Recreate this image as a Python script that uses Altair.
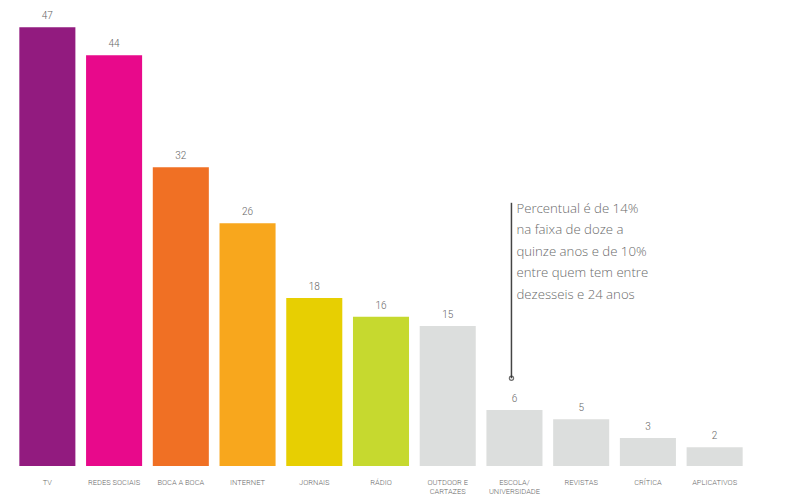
import altair as alt
import pandas as pd

categories = ["TV", "REDES SOCIAIS", "BOCA A BOCA", "INTERNET", "JORNAIS", "RÁDIO",
              "OUTDOOR E|CARTAZES", "ESCOLA/|UNIVERSIDADE", "REVISTAS", "CRÍTICA", "APLICATIVOS"]
values = [47, 44, 32, 26, 18, 16, 15, 6, 5, 3, 2]
colors = ["#921B7F", "#E8098B", "#F07024", "#F8A71D", "#E7CF02", "#C6D92F",
          "#DCDEDD", "#DCDEDD", "#DCDEDD", "#DCDEDD", "#DCDEDD"]

note_lines = ["Percentual é de 14%", "na faixa de doze a", "quinze anos e de 10%",
              "entre quem tem entre", "dezesseis e 24 anos"]
note_cat = "ESCOLA/|UNIVERSIDADE"
note_top = 28.2
note_bottom = 9.4

df = pd.DataFrame({"cat": categories, "value": values, "color": colors})

x = alt.X("cat:N", sort=categories,
          scale=alt.Scale(paddingInner=0.16, paddingOuter=0.08),
          axis=alt.Axis(title=None, labelAngle=0, domain=False, ticks=False,
                        labelFontSize=7.5, labelColor="#6a6a6a", labelPadding=12,
                        labelFont="Roboto", labelFontWeight=300, labelLineHeight=9,
                        labelExpr="split(datum.label, '|')"))
y = alt.Y("value:Q", scale=alt.Scale(domain=[0, 48], nice=False),
          axis=None)

bars = alt.Chart(df).mark_bar().encode(
    x=x, y=y, color=alt.Color("color:N", scale=None))

labels = alt.Chart(df).mark_text(baseline="bottom", dy=-6, fontSize=10,
                                 color="#666666", font="Roboto", fontWeight=300).encode(
    x=alt.X("cat:N", sort=categories), y="value:Q", text="value:Q")

ndf = pd.DataFrame({"cat": [note_cat], "top": [note_top], "bottom": [note_bottom],
                    "txt": [note_lines]})

rule = alt.Chart(ndf).mark_rule(color="#444444", strokeWidth=1.5, xOffset=-3).encode(
    x=alt.X("cat:N", sort=categories), y="bottom:Q", y2="top:Q")
dot = alt.Chart(ndf).mark_point(shape="circle", size=18, color="#333333",
                                strokeWidth=1.2, filled=False, xOffset=-3).encode(
    x=alt.X("cat:N", sort=categories), y="bottom:Q")
note = alt.Chart(ndf).mark_text(align="left", baseline="top", fontSize=13.2,
                                lineHeight=21.5, color="#6a6a6a", font="Open Sans",
                                fontWeight=300, dx=2, dy=0).encode(
    x=alt.X("cat:N", sort=categories), y="top:Q", text="txt")

chart = alt.layer(bars, labels, rule, dot, note).properties(
    width=734, height=448,
    autosize=alt.AutoSizeParams(type="none"),
    padding={"left": 6, "top": 10, "right": 40, "bottom": 30},
).configure_view(stroke=None)

chart.save("out.html", embed_options={"renderer": "svg", "actions": False})
